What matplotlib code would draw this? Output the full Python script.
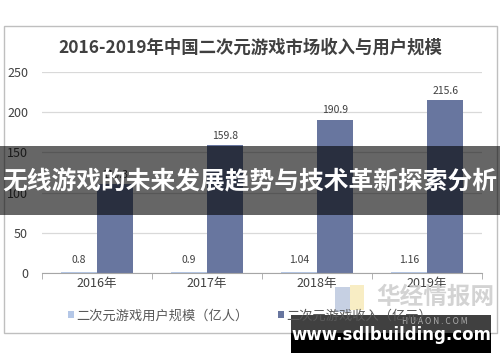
import numpy as np
import matplotlib
matplotlib.use("Agg")
import matplotlib.pyplot as plt
from matplotlib.patches import Rectangle

plt.rcParams["font.family"] = ["Noto Sans CJK SC", "DejaVu Sans"]

# ─── Data ────────────────────────────────────────────────────────────────────
YEARS = ["2016年", "2017年", "2018年", "2019年"]
USERS = [0.8, 0.9, 1.04, 1.16]          # 二次元游戏用户规模（亿人）
REVENUE = [110.3, 159.8, 190.9, 215.6]  # 二次元游戏收入（亿元）
USER_LABELS = ["0.8", "0.9", "1.04", "1.16"]
TITLE = "2016-2019年中国二次元游戏市场收入与用户规模"
LEGEND = ["二次元游戏用户规模（亿人）", "二次元游戏收入（亿元）"]
BANNER = "无线游戏的未来发展趋势与技术革新探索分析"
SITE = "www.sdlbuilding.com"

C_USER = "#b4c7e7"
C_REV = "#68769f"

W, H = 500, 362
fig = plt.figure(figsize=(W / 100, H / 100), dpi=100)
fig.patch.set_facecolor("white")

# ─── Main chart ──────────────────────────────────────────────────────────────
ax = fig.add_axes([42 / W, 1 - 273 / H, 440 / W, 201 / H])
x = np.arange(len(YEARS))
bw = 0.33
ax.bar(x - bw / 2, USERS, bw, color=C_USER, label=LEGEND[0])
ax.bar(x + bw / 2, REVENUE, bw, color=C_REV, label=LEGEND[1])

for i in range(len(YEARS)):
    ax.text(x[i] - bw / 2, USERS[i] + 9, USER_LABELS[i], ha="center",
            va="bottom", fontsize=7.5, color="#404040")
    ax.text(x[i] + bw / 2, REVENUE[i] + 5, f"{REVENUE[i]:.1f}", ha="center",
            va="bottom", fontsize=7.5, color="#404040")

ax.set_xlim(-0.5, len(YEARS) - 0.5)
ax.set_ylim(0, 250)
ax.set_yticks(range(0, 251, 50))
ax.yaxis.grid(True, color="#d9d9d9", linewidth=0.9)
ax.set_axisbelow(True)
for s in ["top", "right", "left"]:
    ax.spines[s].set_visible(False)
ax.spines["bottom"].set_color("#a6a6a6")
ax.set_xticks(np.arange(-0.5, len(YEARS), 1.0), minor=True)
ax.set_xticks(x)
ax.set_xticklabels(YEARS, fontsize=9, color="#404040")
ax.tick_params(axis="x", which="major", length=0, pad=3)
ax.tick_params(axis="x", which="minor", length=4, color="#a6a6a6")
ax.tick_params(axis="y", length=0, labelsize=9, labelcolor="#404040", pad=10)

fig.text(0.5, 1 - 48 / H, TITLE, ha="center", va="center", fontsize=12.5,
         fontweight="bold", color="#404040")

leg = fig.legend(loc="center", bbox_to_anchor=(0.5, 1 - 316 / H), ncol=2,
                 frameon=False, fontsize=9.5, handlelength=0.45,
                 handleheight=0.45, handletextpad=0.2, columnspacing=2.2)
for t in leg.get_texts():
    t.set_color("#595959")

# ─── Overlays (border, banner, watermark, site box) ───────────────────────────
ov = fig.add_axes([0, 0, 1, 1], facecolor="none")
ov.set_xlim(0, W)
ov.set_ylim(H, 0)
ov.axis("off")

ov.add_patch(Rectangle((4, 26), 493, 307, fill=False, edgecolor="#bfbfbf",
                       linewidth=1))
ov.add_patch(Rectangle((0, 146), W, 69, facecolor="black", alpha=0.6,
                       edgecolor="none"))
ov.text(W / 2, 182, BANNER, ha="center", va="center", fontsize=17.8,
        fontweight="bold", color="white")

ov.text(435, 297, "华经情报网", ha="center", va="center", fontsize=17,
        fontweight="bold", color="#c8c8c8", alpha=0.8)
ov.text(435, 322, "H U A O N . C O M", ha="center", va="center", fontsize=6,
        color="#c8c8c8", alpha=0.8)
ov.add_patch(Rectangle((335, 287), 15, 25, facecolor="#8fa3c9", alpha=0.5,
                       edgecolor="none"))
ov.add_patch(Rectangle((350, 285), 14, 25, facecolor="#f3dc8a", alpha=0.5,
                       edgecolor="none"))

ov.add_patch(Rectangle((291, 315), 200, 18, facecolor="black", alpha=0.75,
                       edgecolor="none"))
ov.add_patch(Rectangle((291, 333), 200, 20, facecolor="black",
                       edgecolor="none"))
ov.text(391, 335, SITE, ha="center", va="center", fontsize=12,
        fontweight="bold", color="white", family="DejaVu Sans")

fig.savefig("out.png", dpi=100)
